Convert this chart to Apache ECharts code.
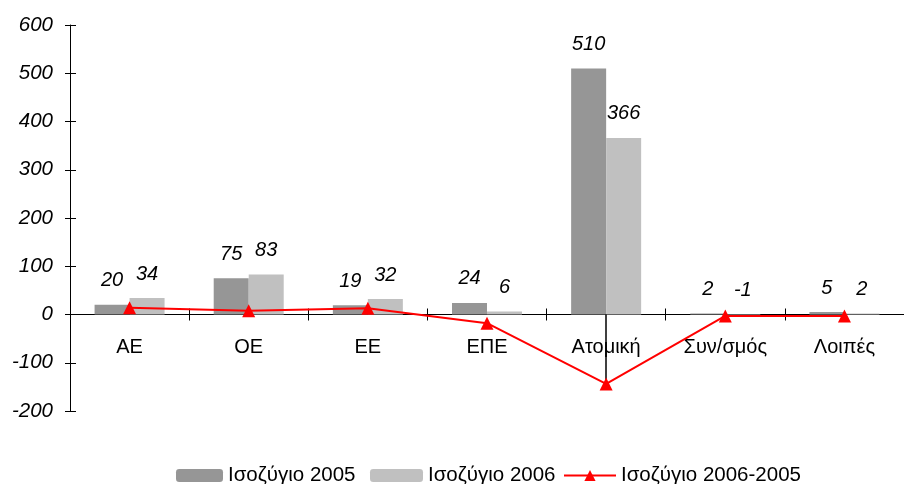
<!DOCTYPE html>
<html>
<head>
<meta charset="utf-8">
<script src="https://cdn.jsdelivr.net/npm/echarts@6/dist/echarts.min.js"></script>
<style>html,body{margin:0;padding:0;background:#fff;}#c{width:904px;height:484px;}</style>
</head>
<body>
<div id="c"></div>
<script>
const categories = ['ΑΕ', 'ΟΕ', 'ΕΕ', 'ΕΠΕ', 'Ατομική', 'Συν/σμός', 'Λοιπές'];
const balance2005 = [20, 75, 19, 24, 510, 2, 5];
const balance2006 = [34, 83, 32, 6, 366, -1, 2];
const balanceDiff = [14, 8, 13, -18, -144, -3, -3];
const yTicks = { min: -200, max: 600, interval: 100 };
const seriesNames = ['Ισοζύγιο 2005', 'Ισοζύγιο 2006', 'Ισοζύγιο 2006-2005'];

const FONT = '"Liberation Sans", Arial, sans-serif';
const chart = echarts.init(document.getElementById('c'), null, { renderer: 'canvas' });

const valueLabel = {
  show: true, position: 'top', distance: 14,
  fontFamily: FONT, fontSize: 20, fontStyle: 'italic', color: '#000'
};

const legendBase = {
  top: 465, orient: 'horizontal', itemHeight: 13, padding: 0,
  textStyle: { fontFamily: FONT, fontSize: 20.5, color: '#000' },
  selectedMode: false
};

chart.setOption({
  animation: false,
  backgroundColor: '#fff',
  grid: { left: 70, right: -9, top: 25, bottom: 73, containLabel: false },
  legend: [
    Object.assign({}, legendBase, { left: 176, itemWidth: 47, data: [seriesNames[0]] }),
    Object.assign({}, legendBase, { left: 370, itemWidth: 53, data: [seriesNames[1]] }),
    Object.assign({}, legendBase, { left: 563, itemWidth: 52, itemHeight: 14, data: [seriesNames[2]] })
  ],
  xAxis: [
    {
      type: 'category', data: categories, position: 'bottom',
      axisLine: { onZero: true, lineStyle: { color: '#000', width: 1 } },
      axisTick: { show: true, inside: false, length: 6, lineStyle: { color: '#000' } },
      axisLabel: { margin: -74, fontFamily: FONT, fontSize: 20, color: '#000' },
      splitLine: { show: false }
    },
    {
      type: 'category', data: categories, position: 'bottom',
      axisLine: { show: false, onZero: true },
      axisTick: { show: true, inside: true, length: 6, lineStyle: { color: '#000' } },
      axisLabel: { show: false },
      splitLine: { show: false }
    }
  ],
  yAxis: [
    {
      type: 'value', min: yTicks.min, max: yTicks.max, interval: yTicks.interval,
      axisLine: { show: true, onZero: false, lineStyle: { color: '#000', width: 1 } },
      axisTick: { show: true, inside: false, length: 5, lineStyle: { color: '#000' } },
      axisLabel: { margin: 17, fontFamily: FONT, fontSize: 20.5, fontStyle: 'italic', color: '#000' },
      splitLine: { show: false }
    },
    {
      type: 'value', min: yTicks.min, max: yTicks.max, interval: yTicks.interval, position: 'left',
      axisLine: { show: false, onZero: false },
      axisTick: { show: true, inside: true, length: 6, lineStyle: { color: '#000' } },
      axisLabel: { show: false },
      splitLine: { show: false }
    }
  ],
  series: [
    {
      name: seriesNames[0], type: 'bar', data: balance2005,
      barWidth: 35, barGap: '0%',
      itemStyle: { color: '#969696' },
      label: valueLabel
    },
    {
      name: seriesNames[1], type: 'bar', data: balance2006,
      barWidth: 35, barGap: '0%',
      itemStyle: { color: '#C0C0C0' },
      label: valueLabel
    },
    {
      name: seriesNames[2], type: 'line', data: balanceDiff,
      symbol: 'triangle', symbolSize: 13, z: 5,
      lineStyle: { color: '#FF0000', width: 2 },
      itemStyle: { color: '#FF0000' },
      markLine: {
        silent: true, symbol: 'none', label: { show: false },
        lineStyle: { color: '#000', width: 1.5, type: 'solid' },
        data: [[{ coord: [categories[4], 0] }, { coord: [categories[4], balanceDiff[4]] }]]
      }
    }
  ]
});
</script>
</body>
</html>
